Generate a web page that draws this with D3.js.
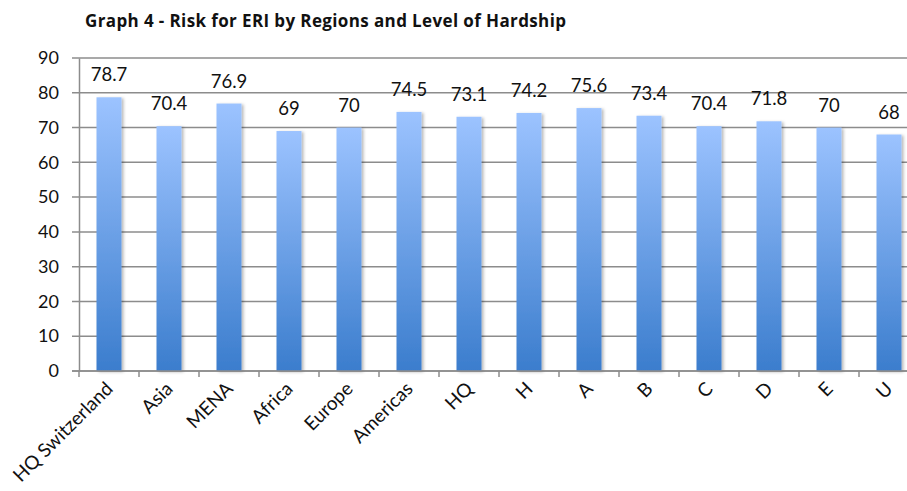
<!DOCTYPE html>
<html>
<head>
<meta charset="utf-8">
<script src="https://cdn.jsdelivr.net/npm/d3@7"></script>
<style>
body { margin: 0; background: #fff; }
svg { display: block; font-family: Lato, "Open Sans", sans-serif; }
</style>
</head>
<body>
<div id="chart"></div>
<script>
// data
var categories = ["HQ Switzerland", "Asia", "MENA", "Africa", "Europe", "Americas",
  "HQ", "H", "A", "B", "C", "D", "E", "U"];
var values = [78.7, 70.4, 76.9, 69, 70, 74.5, 73.1, 74.2, 75.6, 73.4, 70.4, 71.8, 70, 68];
var yTicks = [0, 10, 20, 30, 40, 50, 60, 70, 80, 90];
var title = "Graph 4 - Risk for ERI by Regions and Level of Hardship";

var W = 907, H = 491;
var margin = {top: 58, right: -12, bottom: 120, left: 79};
var width = W - margin.left - margin.right,
    height = H - margin.top - margin.bottom;

var svg = d3.select("#chart").append("svg")
  .attr("width", W)
  .attr("height", H);

// bar gradient + soft shadow
var defs = svg.append("defs");
var grad = defs.append("linearGradient")
  .attr("id", "barGrad")
  .attr("x1", 0).attr("y1", 0).attr("x2", 0).attr("y2", 1);
grad.append("stop").attr("offset", "0%").attr("stop-color", "#9cc3ff");
grad.append("stop").attr("offset", "100%").attr("stop-color", "#3b7dcd");
var f = defs.append("filter").attr("id", "shadow")
  .attr("x", "-20%").attr("y", "-5%").attr("width", "150%").attr("height", "115%");
f.append("feDropShadow")
  .attr("dx", 2).attr("dy", 1).attr("stdDeviation", 1.8)
  .attr("flood-color", "#000").attr("flood-opacity", 0.28);

svg.append("text")
  .attr("x", 85)
  .attr("y", 27)
  .attr("font-family", "'Open Sans', sans-serif")
  .attr("font-weight", "bold")
  .attr("font-size", "17px")
  .attr("textLength", 481)
  .attr("lengthAdjust", "spacing")
  .attr("fill", "#111")
  .text(title);

var g = svg.append("g")
  .attr("transform", "translate(" + margin.left + "," + margin.top + ")");

var x = d3.scaleBand().domain(categories).range([0, width]).paddingInner(0).paddingOuter(0);
var y = d3.scaleLinear().domain([0, 90]).range([height, 0]);

// gridlines
g.append("g")
  .selectAll("line")
  .data(yTicks)
  .join("line")
  .attr("x1", -7)
  .attr("x2", W - margin.left)
  .attr("y1", function(d) { return y(d); })
  .attr("y2", function(d) { return y(d); })
  .attr("stroke", "#8c8c8c")
  .attr("stroke-width", 1.5);

// y axis
var yAxis = d3.axisLeft(y).tickValues(yTicks).tickSize(0).tickPadding(20);
g.append("g")
  .attr("class", "y axis")
  .call(yAxis)
  .call(function(s) { s.select(".domain").attr("stroke", "#8c8c8c").attr("stroke-width", 1.5); })
  .selectAll("text")
  .attr("font-family", "Lato, sans-serif")
  .attr("font-size", "18px")
  .attr("fill", "#111");

// bars
var barW = 25;
g.append("g")
  .selectAll("rect")
  .data(values)
  .join("rect")
  .attr("x", function(d, i) { return x(categories[i]) + x.bandwidth() / 2 - barW / 2; })
  .attr("y", function(d) { return y(d); })
  .attr("width", barW)
  .attr("height", function(d) { return height - y(d); })
  .attr("fill", "url(#barGrad)")
  .attr("filter", "url(#shadow)");

// value labels
g.append("g")
  .selectAll("text")
  .data(values)
  .join("text")
  .attr("x", function(d, i) { return x(categories[i]) + x.bandwidth() / 2; })
  .attr("y", function(d) { return y(d) - 16; })
  .attr("text-anchor", "middle")
  .attr("font-size", "18.5px")
  .attr("fill", "#111")
  .text(function(d) { return d; });

// x axis: baseline + ticks between categories
var xAxisG = g.append("g").attr("transform", "translate(0," + height + ")");
xAxisG.append("line")
  .attr("x1", -7).attr("x2", W - margin.left)
  .attr("stroke", "#8c8c8c").attr("stroke-width", 1.5);
xAxisG.selectAll(".tk")
  .data(categories)
  .join("line")
  .attr("class", "tk")
  .attr("x1", function(d) { return x(d); })
  .attr("x2", function(d) { return x(d); })
  .attr("y1", 0).attr("y2", 6)
  .attr("stroke", "#8c8c8c").attr("stroke-width", 1.5);
xAxisG.selectAll(".lbl")
  .data(categories)
  .join("text")
  .attr("class", "lbl")
  .attr("text-anchor", "end")
  .attr("font-size", "19px")
  .attr("fill", "#111")
  .attr("transform", function(d) {
    return "translate(" + (x(d) + x.bandwidth() / 2 + 5) + ",19) rotate(-45)";
  })
  .text(function(d) { return d; });
</script>
</body>
</html>
